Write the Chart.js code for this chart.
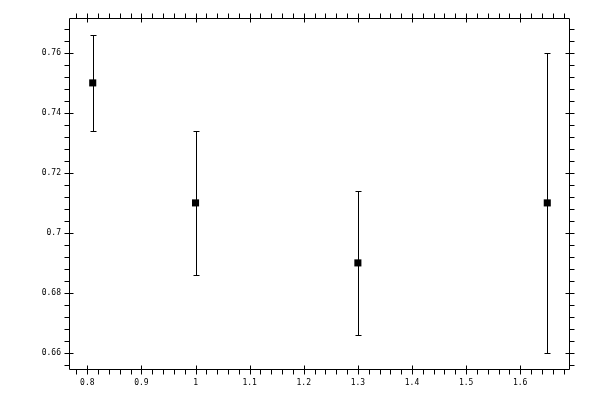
<!DOCTYPE html>
<html>
<head>
<meta charset="utf-8">
<script src="https://cdn.jsdelivr.net/npm/chart.js@4/dist/chart.umd.min.js"></script>
<style>
html,body{margin:0;padding:0;background:#fff;}
canvas{display:block;}
</style>
</head>
<body>
<canvas id="c" width="600" height="400"></canvas>
<script>
// ---- data ----
const xValues = [0.81, 1.0, 1.3, 1.65];
const yValues = [0.75, 0.71, 0.69, 0.71];
const yErrors = [0.016, 0.024, 0.024, 0.05];
const xTickLabels = [0.8, 0.9, 1.0, 1.1, 1.2, 1.3, 1.4, 1.5, 1.6];
const yTickLabels = [0.66, 0.68, 0.70, 0.72, 0.74, 0.76];
const xMinorStep = 0.02;
const yMinorStep = 0.004;

const points = xValues.map((x, i) => ({x: x, y: yValues[i]}));

function fmt(v) {
  return String(Math.round(v * 1000) / 1000);
}

function minors(min, max, step, majors) {
  const out = [];
  for (let k = Math.ceil(min / step - 1e-9); k * step <= max + 1e-9; k++) {
    const v = k * step;
    if (!majors.some(m => Math.abs(m - v) < step / 10)) out.push(v);
  }
  return out;
}

const framePlugin = {
  id: 'frame',
  beforeDatasetsDraw(chart) {
    const ctx = chart.ctx;
    const xs = chart.scales.x, ys = chart.scales.y;
    ctx.save();
    ctx.strokeStyle = '#000';
    ctx.lineWidth = 1;
    ctx.beginPath();
    xValues.forEach((x, i) => {
      const px = Math.round(xs.getPixelForValue(x)) + 0.5;
      const top = Math.round(ys.getPixelForValue(yValues[i] + yErrors[i])) + 0.5;
      const bot = Math.round(ys.getPixelForValue(yValues[i] - yErrors[i])) + 0.5;
      ctx.moveTo(px, top); ctx.lineTo(px, bot);
      ctx.moveTo(px - 3, top); ctx.lineTo(px + 3, top);
      ctx.moveTo(px - 3, bot); ctx.lineTo(px + 3, bot);
    });
    ctx.stroke();
    ctx.restore();
  },
  afterDraw(chart) {
    const ctx = chart.ctx;
    const a = chart.chartArea;
    const xs = chart.scales.x, ys = chart.scales.y;
    const L = Math.round(a.left) - 0.5, R = Math.round(a.right) - 0.5;
    const T = Math.round(a.top) - 0.5, B = Math.round(a.bottom) - 0.5;
    const len = 4;
    ctx.save();
    ctx.strokeStyle = '#000';
    ctx.lineWidth = 1;
    ctx.beginPath();
    ctx.rect(L, T, R - L, B - T);
    // x major
    xTickLabels.forEach(v => {
      const p = Math.round(xs.getPixelForValue(v)) + 0.5;
      ctx.moveTo(p, B - len); ctx.lineTo(p, B + len + 1);
      ctx.moveTo(p, T - len - 1); ctx.lineTo(p, T + len);
    });
    minors(xs.min, xs.max, xMinorStep, xTickLabels).forEach(v => {
      const p = Math.round(xs.getPixelForValue(v)) + 0.5;
      ctx.moveTo(p, B); ctx.lineTo(p, B + len + 1);
      ctx.moveTo(p, T); ctx.lineTo(p, T - len - 1);
    });
    yTickLabels.forEach(v => {
      const p = Math.round(ys.getPixelForValue(v)) + 0.5;
      ctx.moveTo(L - len - 1, p); ctx.lineTo(L + len, p);
      ctx.moveTo(R - len, p); ctx.lineTo(R + len + 1, p);
    });
    minors(ys.min, ys.max, yMinorStep, yTickLabels).forEach(v => {
      const p = Math.round(ys.getPixelForValue(v)) + 0.5;
      ctx.moveTo(L, p); ctx.lineTo(L - len - 1, p);
      ctx.moveTo(R, p); ctx.lineTo(R + len + 1, p);
    });
    ctx.stroke();
    ctx.restore();
  }
};

new Chart(document.getElementById('c'), {
  type: 'scatter',
  data: {
    datasets: [{
      data: points,
      pointStyle: 'rect',
      pointRadius: 5,
      pointHoverRadius: 5,
      pointBorderWidth: 0,
      backgroundColor: '#000',
      borderColor: '#000',
      showLine: false
    }]
  },
  options: {
    responsive: false,
    animation: false,
    devicePixelRatio: 1,
    layout: { padding: { top: 19, right: 30, left: 0, bottom: 0 } },
    plugins: { legend: { display: false }, tooltip: { enabled: false } },
    scales: {
      x: {
        type: 'linear',
        min: 0.768,
        max: 1.692,
        afterBuildTicks: s => { s.ticks = xTickLabels.map(v => ({value: v})); },
        afterFit: s => { s.height = 30; },
        grid: { display: false, drawTicks: false },
        border: { display: false },
        ticks: {
          padding: 8,
          color: '#000',
          maxRotation: 0,
          autoSkip: false,
          font: { family: 'DejaVu Sans Mono', size: 8 },
          callback: v => fmt(v)
        }
      },
      y: {
        type: 'linear',
        min: 0.6543,
        max: 0.7713,
        afterBuildTicks: s => { s.ticks = yTickLabels.map(v => ({value: v})); },
        afterFit: s => { s.width = 70; },
        grid: { display: false, drawTicks: false },
        border: { display: false },
        ticks: {
          padding: 9,
          color: '#000',
          autoSkip: false,
          font: { family: 'DejaVu Sans Mono', size: 8 },
          callback: v => fmt(v)
        }
      }
    }
  },
  plugins: [framePlugin]
});
</script>
</body>
</html>
